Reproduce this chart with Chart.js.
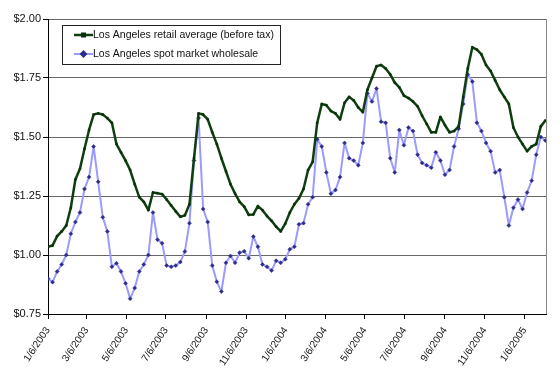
<!DOCTYPE html>
<html>
<head>
<meta charset="utf-8">
<script src="https://cdn.jsdelivr.net/npm/chart.js@4.4.1/dist/chart.umd.min.js"></script>
<style>
  html, body { margin: 0; padding: 0; background: #fff; }
  #wrap { position: relative; width: 560px; height: 380px; }
</style>
</head>
<body>
<div id="wrap"><canvas id="c" width="560" height="380"></canvas></div>
<script>
// ---- data (weekly, starting 1/6/2003) ----
const startDate = '1/6/2003';
const seriesNames = ['Los Angeles retail average (before tax)', 'Los Angeles spot market wholesale'];
const retail = [
  1.035, 1.04, 1.08, 1.10, 1.125, 1.20, 1.32, 1.365, 1.45, 1.53,
  1.595, 1.60, 1.595, 1.58, 1.56, 1.47, 1.435, 1.40, 1.36, 1.30,
  1.245, 1.225, 1.19, 1.265, 1.262, 1.258, 1.235, 1.21, 1.185, 1.162,
  1.168, 1.215, 1.41, 1.60, 1.595, 1.575, 1.52, 1.47, 1.41, 1.355,
  1.30, 1.26, 1.225, 1.205, 1.17, 1.172, 1.207, 1.19, 1.165, 1.145,
  1.12, 1.10, 1.133, 1.18, 1.215, 1.24, 1.28, 1.36, 1.395, 1.56,
  1.64, 1.635, 1.61, 1.60, 1.575, 1.645, 1.67, 1.655, 1.625, 1.605,
  1.70, 1.75, 1.80, 1.805, 1.79, 1.765, 1.73, 1.71, 1.675, 1.665,
  1.65, 1.63, 1.59, 1.555, 1.52, 1.52, 1.585, 1.55, 1.52, 1.525,
  1.545, 1.67, 1.79, 1.88, 1.87, 1.85, 1.805, 1.78, 1.74, 1.70,
  1.67, 1.64, 1.54, 1.50, 1.47, 1.44, 1.46, 1.47, 1.545, 1.57
];
const wholesale = [
  0.90, 0.885, 0.93, 0.96, 1.00, 1.09, 1.14, 1.18, 1.28, 1.33,
  1.46, 1.31, 1.16, 1.10, 0.95, 0.965, 0.93, 0.88, 0.815, 0.86,
  0.93, 0.96, 1.00, 1.18, 1.065, 1.05, 0.955, 0.95, 0.955, 0.97,
  1.015, 1.135, 1.40, 1.58, 1.195, 1.14, 0.955, 0.887, 0.845, 0.967,
  0.996, 0.967, 1.01, 1.016, 0.986, 1.078, 1.035, 0.96, 0.95, 0.934,
  0.976, 0.967, 0.982, 1.024, 1.035, 1.13, 1.135, 1.215, 1.245, 1.49,
  1.46, 1.35, 1.26, 1.275, 1.33, 1.475, 1.41, 1.40, 1.38, 1.475,
  1.685, 1.65, 1.705, 1.565, 1.56, 1.41, 1.35, 1.53, 1.465, 1.54,
  1.525, 1.425, 1.39, 1.38, 1.37, 1.435, 1.40, 1.34, 1.36, 1.46,
  1.535, 1.64, 1.765, 1.735, 1.56, 1.525, 1.475, 1.44, 1.35, 1.36,
  1.245, 1.125, 1.20, 1.235, 1.195, 1.265, 1.315, 1.425, 1.50, 1.485
];
const tickLabels = ['1/6/2003','3/6/2003','5/6/2003','7/6/2003','9/6/2003','11/6/2003',
  '1/6/2004','3/6/2004','5/6/2004','7/6/2004','9/6/2004','11/6/2004','1/6/2005'];
const yTicks = [0.75, 1.00, 1.25, 1.50, 1.75, 2.00];

// ---- helpers ----
function dayNum(s) { const [m, d, y] = s.split('/').map(Number); return Date.UTC(y, m - 1, d) / 86400000; }
const day0 = dayNum(startDate);
const tickDays = tickLabels.map(l => dayNum(l) - day0);
const toPts = arr => arr.map((v, i) => ({ x: i * 7, y: v }));

const COLORS = {
  retailLine: '#0f3f0f', retailPt: '#0a300a',
  wholeLine: '#9a9aff', wholePt: '#2c2c8a'
};
const FONT = '"Liberation Sans", Arial, sans-serif';

const legendPlugin = {
  id: 'boxLegend',
  afterDraw(chart) {
    const ctx = chart.ctx;
    const bx = 62, by = 25, bw = 218, bh = 39;
    ctx.save();
    ctx.fillStyle = '#fff';
    ctx.fillRect(bx, by, bw, bh);
    ctx.strokeStyle = '#222';
    ctx.lineWidth = 1;
    ctx.strokeRect(bx + 0.5, by + 0.5, bw, bh);
    chart.data.datasets.forEach((ds, i) => {
      const cy = by + 10 + i * 19;
      ctx.strokeStyle = ds.borderColor;
      ctx.lineWidth = ds.borderWidth;
      ctx.beginPath(); ctx.moveTo(74, cy); ctx.lineTo(93, cy); ctx.stroke();
      ctx.fillStyle = ds.pointBackgroundColor;
      ctx.strokeStyle = ds.pointBorderColor;
      Chart.helpers.drawPoint(ctx, { pointStyle: ds.pointStyle, radius: ds.pointRadius + 0.5, borderWidth: 1, rotation: 0 }, 83.5, cy);
      ctx.fillStyle = '#111';
      ctx.font = '10.5px ' + FONT;
      ctx.textBaseline = 'middle';
      ctx.textAlign = 'left';
      ctx.fillText(ds.label, 93, cy + 0.5);
    });
    ctx.restore();
  }
};

const framePlugin = {
  id: 'frame',
  beforeDatasetsDraw(chart) {
    const { ctx, chartArea: a } = chart;
    ctx.save();
    ctx.strokeStyle = '#888';
    ctx.lineWidth = 1;
    ctx.beginPath();
    ctx.moveTo(Math.round(a.right) + 0.5, a.top);
    ctx.lineTo(Math.round(a.right) + 0.5, a.bottom);
    ctx.stroke();
    ctx.restore();
  }
};

new Chart(document.getElementById('c'), {
  type: 'line',
  data: {
    datasets: [
      {
        label: seriesNames[0], data: toPts(retail),
        borderColor: COLORS.retailLine, borderWidth: 2.5,
        pointStyle: 'rect', pointRadius: 1.3,
        pointBackgroundColor: COLORS.retailPt, pointBorderColor: COLORS.retailPt, pointBorderWidth: 0.5,
        tension: 0, order: 1
      },
      {
        label: seriesNames[1], data: toPts(wholesale),
        borderColor: COLORS.wholeLine, borderWidth: 2,
        pointStyle: 'rectRot', pointRadius: 2,
        pointBackgroundColor: COLORS.wholePt, pointBorderColor: COLORS.wholePt, pointBorderWidth: 0.5,
        tension: 0, order: 2
      }
    ]
  },
  options: {
    responsive: false,
    animation: false,
    devicePixelRatio: 1,
    layout: { padding: { top: 19, right: 14, left: 0, bottom: 0 } },
    plugins: { legend: { display: false }, tooltip: { enabled: false } },
    elements: { line: { borderJoinStyle: 'round' } },
    scales: {
      x: {
        type: 'linear',
        min: 0,
        max: 764,
        afterBuildTicks(scale) { scale.ticks = tickDays.map(v => ({ value: v })); },
        afterFit(scale) { scale.height = 66; },
        ticks: {
          autoSkip: false, minRotation: 56, maxRotation: 56, padding: 6,
          color: '#111',
          font: { family: FONT, size: 10 },
          callback(v, i) { return tickLabels[i]; }
        },
        grid: { drawOnChartArea: false, drawTicks: true, tickLength: 5, tickColor: '#000' },
        border: { display: true, color: '#000', width: 1 }
      },
      y: {
        min: 0.75, max: 2.0,
        afterBuildTicks(scale) { scale.ticks = yTicks.map(v => ({ value: v })); },
        afterFit(scale) { scale.width = 48; },
        ticks: {
          padding: 2, color: '#111',
          font: { family: FONT, size: 11 },
          callback(v) { return '$' + Number(v).toFixed(2); }
        },
        grid: { color: '#666', lineWidth: 1, tickLength: 5, tickColor: '#000' },
        border: { display: true, color: '#000', width: 1 }
      }
    }
  },
  plugins: [framePlugin, legendPlugin]
});
</script>
</body>
</html>
